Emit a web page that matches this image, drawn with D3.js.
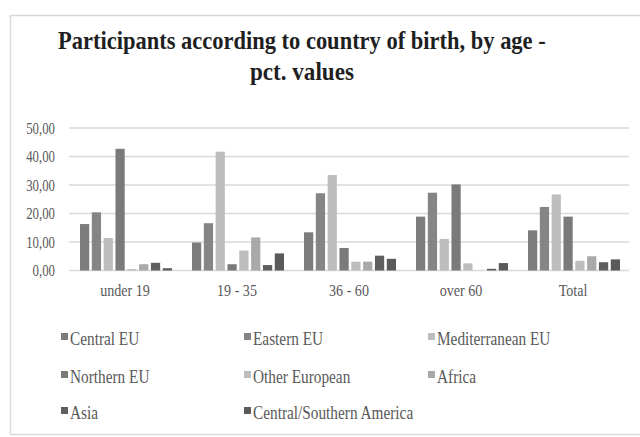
<!DOCTYPE html>
<html>
<head>
<meta charset="utf-8">
<script src="https://cdn.jsdelivr.net/npm/d3@7"></script>
<style>
  html, body { margin: 0; padding: 0; background: #fff; }
  svg { display: block; }
  text { font-family: "Liberation Serif", "DejaVu Serif", serif; }
</style>
</head>
<body>
<svg id="chart" width="640" height="437"></svg>
<script>
// Age groups along the x axis
const categories = ["under 19", "19 - 35", "36 - 60", "over 60", "Total"];

// Country-of-birth groups (one bar each per age group)
const seriesNames = [
  "Central EU", "Eastern EU", "Mediterranean EU",
  "Northern EU", "Other European", "Africa",
  "Asia", "Central/Southern America"
];

// Percentages per series, in category order
const centralEU        = [16.3,  9.8, 13.4, 18.9, 14.1];
const easternEU        = [20.4, 16.6, 27.1, 27.3, 22.3];
const mediterraneanEU  = [11.4, 41.7, 33.5, 11.1, 26.7];
const northernEU       = [42.7,  2.2,  7.9, 30.2, 18.9];
const otherEuropean    = [ 0.5,  7.0,  3.1,  2.5,  3.4];
const africa           = [ 2.2, 11.6,  3.1,  0.0,  5.0];
const asia             = [ 2.7,  1.9,  5.2,  0.6,  2.9];
const centralSouthAm   = [ 0.8,  6.0,  4.1,  2.6,  3.9];

const yTicks = [0, 10, 20, 30, 40, 50];

const seriesValues = [centralEU, easternEU, mediterraneanEU, northernEU,
                      otherEuropean, africa, asia, centralSouthAm];
const seriesColors = ["#7c7c7c", "#858585", "#bebebe", "#7a7a7a",
                      "#bdbdbd", "#a9a9a9", "#5e5e5e", "#5a5a5a"];

const svg = d3.select("#chart");
const textColor = "#595959";

// chart frame
svg.append("rect")
  .attr("x", 10.5).attr("y", 15.5)
  .attr("width", 640).attr("height", 419)
  .attr("fill", "#fff").attr("stroke", "#d9d9d9").attr("stroke-width", 1.5);

// Squeeze a text element horizontally to a condensed look
function condense(sel, factor) {
  sel.each(function () {
    const w = this.getComputedTextLength();
    d3.select(this).attr("textLength", w * factor).attr("lengthAdjust", "spacingAndGlyphs");
  });
}

// Title, two lines, set in a condensed bold face (scaled to a fixed width)
const titleLines = [
  { text: "Participants according to country of birth, by age -", x: 58, y: 49, w: 488 },
  { text: "pct. values", x: 250, y: 80, w: 104 }
];
svg.append("g")
  .selectAll("text")
  .data(titleLines)
  .join("text")
  .attr("x", 0).attr("y", 0)
  .attr("font-weight", "bold")
  .attr("font-size", 26)
  .attr("fill", "#1f1f1f")
  .text(d => d.text)
  .each(function (d) {
    const natural = this.getComputedTextLength();
    d3.select(this).attr("transform", `translate(${d.x},${d.y}) scale(${d.w / natural},1)`);
  });

// Scales
const margin = { left: 69, right: 629, top: 128, bottom: 270.5 };
const x0 = d3.scaleBand().domain(categories).range([margin.left, margin.right]);
const x1 = d3.scaleBand().domain(seriesNames)
  .range([11, x0.bandwidth() - 9]).paddingInner(0.22);
const y = d3.scaleLinear().domain([0, 50]).range([margin.bottom, margin.top]);

// Gridlines
svg.append("g")
  .selectAll("line")
  .data(yTicks)
  .join("line")
  .attr("x1", margin.left).attr("x2", margin.right)
  .attr("y1", d => y(d)).attr("y2", d => y(d))
  .attr("stroke", "#d9d9d9").attr("stroke-width", 1.5);

// Y axis labels
const yAxis = d3.axisLeft(y).tickValues(yTicks).tickSize(0).tickPadding(0)
  .tickFormat(d => d3.format(".2f")(d).replace(".", ","));
const gy = svg.append("g").attr("transform", "translate(55,0)").call(yAxis);
gy.select(".domain").remove();
gy.selectAll("text")
  .attr("font-family", "Liberation Serif, serif")
  .attr("font-size", 16).attr("fill", textColor);
gy.selectAll("text").call(condense, 0.8);

// X axis labels
const xAxis = d3.axisBottom(x0).tickSize(0).tickPadding(0);
const gx = svg.append("g").attr("transform", `translate(0,${margin.bottom + 25})`).call(xAxis);
gx.select(".domain").remove();
gx.selectAll("text")
  .attr("font-family", "Liberation Serif, serif")
  .attr("font-size", 16).attr("fill", textColor).attr("dy", 0);
gx.selectAll("text").call(condense, 0.88);

// Bars
const groups = svg.append("g")
  .selectAll("g")
  .data(categories)
  .join("g")
  .attr("transform", d => `translate(${x0(d)},0)`);

groups.selectAll("rect")
  .data((c, ci) => seriesNames.map((s, si) => ({ s, si, v: seriesValues[si][ci] })))
  .join("rect")
  .attr("x", d => x1(d.s))
  .attr("width", x1.bandwidth())
  .attr("y", d => y(d.v))
  .attr("height", d => y(0) - y(d.v))
  .attr("fill", d => seriesColors[d.si]);

// Legend in three columns
const legendCols = [61, 244, 428];
const legendRows = [339, 377, 413];
const legend = svg.append("g")
  .selectAll("g")
  .data(seriesNames)
  .join("g")
  .attr("transform", (d, i) => `translate(${legendCols[i % 3]},${legendRows[Math.floor(i / 3)]})`);
legend.append("rect")
  .attr("x", 0).attr("y", -6).attr("width", 7).attr("height", 7)
  .attr("fill", (d, i) => seriesColors[i]);
const legendText = legend.append("text")
  .attr("x", 9).attr("y", 6)
  .attr("font-size", 18).attr("fill", textColor)
  .text(d => d);
legendText.call(condense, 0.85);
</script>
</body>
</html>
